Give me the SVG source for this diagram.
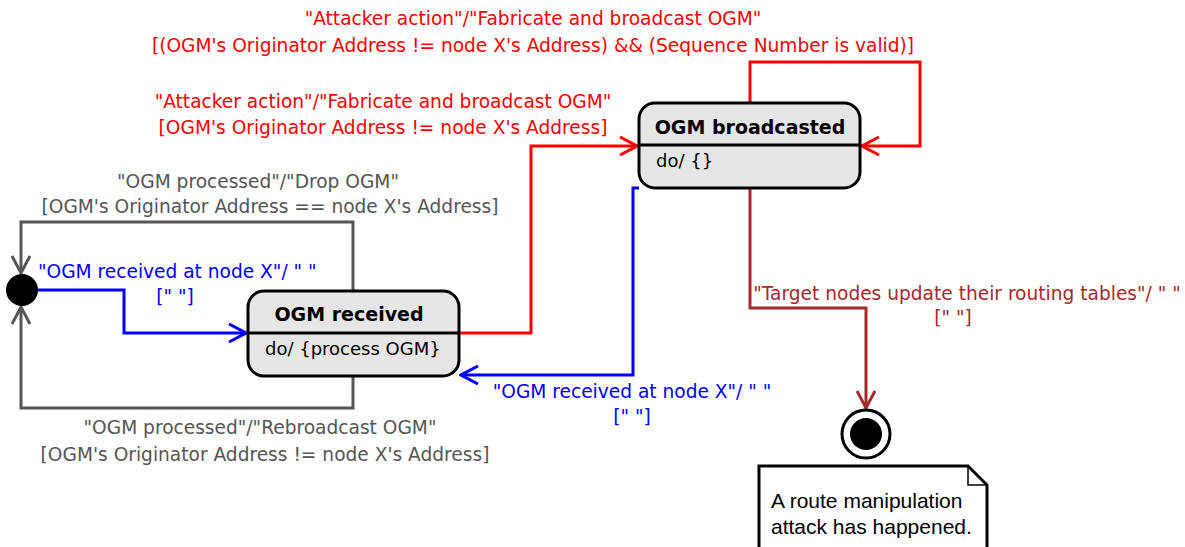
<svg xmlns="http://www.w3.org/2000/svg" width="1185" height="547" viewBox="0 0 1185 547">
<style>
text{font-family:"DejaVu Sans",Verdana,sans-serif;font-size:18.6px}
.lbl{text-anchor:middle}
.gray{fill:#555555}.blue{fill:#0000FF}.red{fill:#FF0000}.brown{fill:#A52A2A}
.title{font-weight:bold;font-size:19px;text-anchor:middle;fill:#000}
.act{fill:#000;font-size:18px}
.state{fill:#E6E6E6;stroke:#000;stroke-width:3}
.c{fill:none;stroke-width:3}
.note{font-family:"Liberation Sans",Arial,sans-serif;font-size:21px;fill:#000}
</style>
<defs>
<marker id="ag" viewBox="0 0 20 20" refX="18" refY="10" markerWidth="20" markerHeight="20" markerUnits="userSpaceOnUse" orient="auto"><path d="M1 1 L18 10 L1 19" fill="none" stroke="#555555" stroke-width="3"/></marker>
<marker id="ab" viewBox="0 0 20 20" refX="18" refY="10" markerWidth="20" markerHeight="20" markerUnits="userSpaceOnUse" orient="auto"><path d="M1 1 L18 10 L1 19" fill="none" stroke="#0000FF" stroke-width="3"/></marker>
<marker id="ar" viewBox="0 0 20 20" refX="18" refY="10" markerWidth="20" markerHeight="20" markerUnits="userSpaceOnUse" orient="auto"><path d="M1 1 L18 10 L1 19" fill="none" stroke="#FF0000" stroke-width="3"/></marker>
<marker id="an" viewBox="0 0 20 20" refX="18" refY="10" markerWidth="20" markerHeight="20" markerUnits="userSpaceOnUse" orient="auto"><path d="M1 1 L18 10 L1 19" fill="none" stroke="#A52A2A" stroke-width="3"/></marker>
</defs>
<g id="connectors">
<path class="c" stroke="#555555" d="M353 291 V222 H21 V273" marker-end="url(#ag)"/>
<path class="c" stroke="#555555" d="M353 376 V408 H21 V307" marker-end="url(#ag)"/>
<path class="c" stroke="#0000FF" d="M38 290 H124 V333 H246" marker-end="url(#ab)"/>
<path class="c" stroke="#FF0000" d="M459 333 H531 V146 H637" marker-end="url(#ar)"/>
<path class="c" stroke="#FF0000" d="M750 103 V62 H920 V146 H862" marker-end="url(#ar)"/>
<path class="c" stroke="#0000FF" d="M639 188 H633 V375 H461" marker-end="url(#ab)"/>
<path class="c" stroke="#A52A2A" d="M750 188 V308 H866 V408" marker-end="url(#an)"/>
<text class="lbl gray" x="258" y="188">"OGM processed"/"Drop OGM"</text>
<text class="lbl gray" x="270" y="213">[OGM's Originator Address == node X's Address]</text>
<text class="blue" x="38" y="278">"OGM received at node X"/ " "</text>
<text class="lbl blue" x="175" y="303">[" "]</text>
<text class="lbl gray" x="260" y="434">"OGM processed"/"Rebroadcast OGM"</text>
<text class="lbl gray" x="265" y="461">[OGM's Originator Address != node X's Address]</text>
<text class="lbl red" x="533" y="25">"Attacker action"/"Fabricate and broadcast OGM"</text>
<text class="lbl red" x="533" y="52">[(OGM's Originator Address != node X's Address) &amp;&amp; (Sequence Number is valid)]</text>
<text class="lbl red" x="383" y="108">"Attacker action"/"Fabricate and broadcast OGM"</text>
<text class="lbl red" x="383" y="134">[OGM's Originator Address != node X's Address]</text>
<text class="lbl blue" x="632" y="398">"OGM received at node X"/ " "</text>
<text class="lbl blue" x="632" y="423">[" "]</text>
<text class="lbl brown" x="967" y="300">"Target nodes update their routing tables"/ " "</text>
<text class="lbl brown" x="953" y="324">[" "]</text>
</g>
<g id="initial"><circle cx="22" cy="290" r="16" fill="#000"/></g>
<g id="ogm-received">
<rect class="state" x="248" y="291" width="211" height="85" rx="16"/>
<line x1="248" y1="333" x2="459" y2="333" stroke="#000" stroke-width="3"/>
<text class="title" x="349" y="321">OGM received</text>
<text class="act" x="265" y="355">do/ {process OGM}</text>
</g>
<g id="ogm-broadcasted">
<rect class="state" x="639" y="103" width="221" height="85" rx="16"/>
<line x1="639" y1="145" x2="860" y2="145" stroke="#000" stroke-width="3"/>
<text class="title" x="750" y="134">OGM broadcasted</text>
<text class="act" x="656" y="167">do/ {}</text>
</g>
<g id="final">
<circle cx="866" cy="434" r="24" fill="#fff" stroke="#000" stroke-width="3"/>
<circle cx="866" cy="434" r="16" fill="#000"/>
</g>
<g id="note">
<path d="M759 466 H968 L987 485 V549 H759 Z" fill="#fff" stroke="#000" stroke-width="3"/>
<path d="M968 466 V485 H987" fill="none" stroke="#000" stroke-width="1.5"/>
<text class="note" x="771" y="508">A route manipulation</text>
<text class="note" x="771" y="534">attack has happened.</text>
</g>
</svg>
